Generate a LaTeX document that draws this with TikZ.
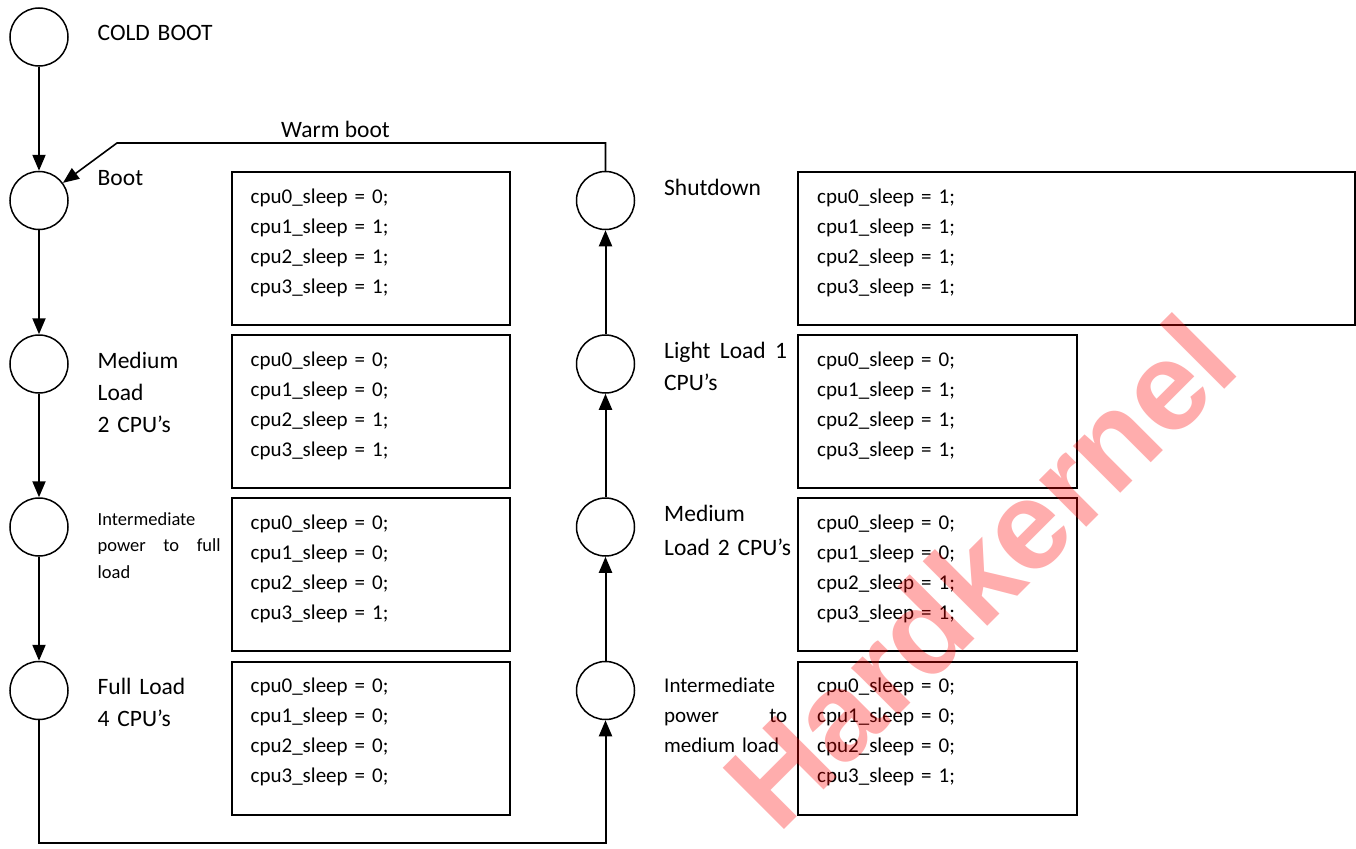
\documentclass[tikz,border=0pt]{standalone}
\usepackage{fontspec}
\setmainfont{Carlito}
\newfontfamily\wmfont{Liberation Sans}
\usetikzlibrary{arrows.meta}
\begin{document}
\begin{tikzpicture}[x=1pt,y=-1pt,
  state/.style={circle,draw,line width=1.5pt,minimum size=58pt,inner sep=0pt},
  regbox/.style={draw,line width=2pt,minimum height=153pt,inner sep=0pt},
  regtext/.style={anchor=base west,inner sep=0pt,text width=220pt,align=left,font=\fontsize{21}{30}\selectfont},
  lab/.style={anchor=base west,inner sep=0pt,text width=140pt,align=left,font=\fontsize{23.5}{32}\selectfont},
  flow/.style={line width=2pt,-{Triangle[length=16pt,width=13pt]}},
]
\useasboundingbox[fill=white] (0,0) rectangle (1356,848);

% states, left column
\node[state] (c0) at (39,37) {};
\node[state] (c1) at (39,200.5) {};
\node[state] (c2) at (39,364) {};
\node[state] (c3) at (39,527) {};
\node[state] (c4) at (39,690.5) {};
% states, right column
\node[state] (r1) at (605.5,200.5) {};
\node[state] (r2) at (605.5,364) {};
\node[state] (r3) at (605.5,527) {};
\node[state] (r4) at (605.5,690.5) {};

% register boxes
\node[regbox,minimum width=278.5pt] (b1) at (370.75,248.5) {};
\node[regbox,minimum width=278.5pt] (b2) at (370.75,411.5) {};
\node[regbox,minimum width=278.5pt] (b3) at (370.75,574.5) {};
\node[regbox,minimum width=278.5pt] (b4) at (370.75,738) {};
\node[regbox,minimum width=557pt] (s1) at (1076.5,248.5) {};
\node[regbox,minimum width=278.5pt] (s2) at (937.25,411.5) {};
\node[regbox,minimum width=278.5pt] (s3) at (937.25,574.5) {};
\node[regbox,minimum width=278.5pt] (s4) at (937.25,738) {};

\node[regtext] (tb1) at ([shift={(20,32)}]b1.north west) {cpu0\_sleep = 0;\\cpu1\_sleep = 1;\\cpu2\_sleep = 1;\\cpu3\_sleep = 1;};
\node[regtext] (tb2) at ([shift={(20,32)}]b2.north west) {cpu0\_sleep = 0;\\cpu1\_sleep = 0;\\cpu2\_sleep = 1;\\cpu3\_sleep = 1;};
\node[regtext] (tb3) at ([shift={(20,32)}]b3.north west) {cpu0\_sleep = 0;\\cpu1\_sleep = 0;\\cpu2\_sleep = 0;\\cpu3\_sleep = 1;};
\node[regtext] (tb4) at ([shift={(20,32)}]b4.north west) {cpu0\_sleep = 0;\\cpu1\_sleep = 0;\\cpu2\_sleep = 0;\\cpu3\_sleep = 0;};
\node[regtext] (ts1) at ([shift={(20,32)}]s1.north west) {cpu0\_sleep = 1;\\cpu1\_sleep = 1;\\cpu2\_sleep = 1;\\cpu3\_sleep = 1;};
\node[regtext] (ts2) at ([shift={(20,32)}]s2.north west) {cpu0\_sleep = 0;\\cpu1\_sleep = 1;\\cpu2\_sleep = 1;\\cpu3\_sleep = 1;};
\node[regtext] (ts3) at ([shift={(20,32)}]s3.north west) {cpu0\_sleep = 0;\\cpu1\_sleep = 0;\\cpu2\_sleep = 1;\\cpu3\_sleep = 1;};
\node[regtext] (ts4) at ([shift={(20,32)}]s4.north west) {cpu0\_sleep = 0;\\cpu1\_sleep = 0;\\cpu2\_sleep = 0;\\cpu3\_sleep = 1;};

% state labels
\node[lab] (l0) at (97.5,41) {COLD BOOT};
\node[lab] (l1) at (97.5,185) {Boot};
\node[lab] (l2) at (97.5,368.5) {Medium\\Load\\2 CPU’s};
\node[lab,text width=123pt,font=\fontsize{18.5}{26.5}\selectfont] (l3) at (97.5,525) {Intermediate\\\makebox[123pt][l]{power\hfill to\hfill full}\\load};
\node[lab] (l4) at (97.5,694) {Full Load\\4 CPU’s};
\node[lab] (m1) at (664,195) {Shutdown};
\node[lab,text width=123pt] (m2) at (664,358.5) {\makebox[123pt][l]{Light\hfill Load\hfill 1}\\CPU’s};
\node[lab,font=\fontsize{23.5}{34}\selectfont] (m3) at (664,521.5) {Medium\\Load 2 CPU’s};
\node[lab,text width=123pt,font=\fontsize{21}{30}\selectfont] (m4) at (664,692.5) {Intermediate\\\makebox[123pt][l]{power\hfill to}\\medium load};

% transitions
\draw[flow] (c0) -- (c1);
\draw[flow] (c1) -- (c2);
\draw[flow] (c2) -- (c3);
\draw[flow] (c3) -- (c4);
\coordinate (bl) at (39,843);
\coordinate (br) at (605.5,843);
\draw[flow] (c4.south) -- (bl) -- (br) -- (r4.south);
\draw[flow] (r4) -- (r3);
\draw[flow] (r3) -- (r2);
\draw[flow] (r2) -- (r1);
\coordinate (wb) at (117,143);
\draw[flow,line width=1.6pt] (r1.north) |- (wb) -- (c1);
\node[anchor=base,inner sep=0pt,font=\fontsize{23.5}{28}\selectfont] (wbl) at (335.5,137) {Warm boot};

% watermark
\node[anchor=base,rotate=45,text=red,text opacity=0.32,inner sep=0pt,font=\wmfont\bfseries\fontsize{126}{126}\selectfont] (wm) at (1011,603) {Hardkernel};
\end{tikzpicture}
\end{document}
